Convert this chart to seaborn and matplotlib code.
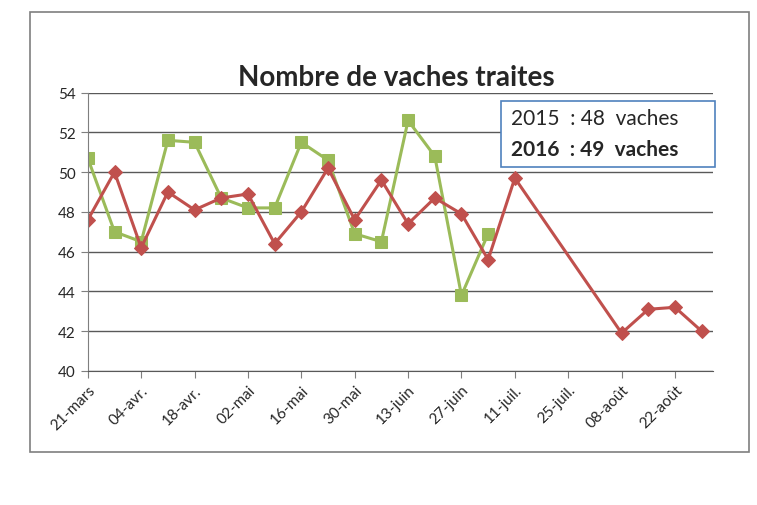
import pandas as pd
import matplotlib.pyplot as plt
from matplotlib.patches import Rectangle
import seaborn as sns

# weekly counts of milked cows
red_dates = ['2016-03-21', '2016-03-28', '2016-04-04', '2016-04-11', '2016-04-18', '2016-04-25',
             '2016-05-02', '2016-05-09', '2016-05-16', '2016-05-23', '2016-05-30', '2016-06-06',
             '2016-06-13', '2016-06-20', '2016-06-27', '2016-07-04', '2016-07-11',
             '2016-08-08', '2016-08-15', '2016-08-22', '2016-08-29']
red_values = [47.6, 50.0, 46.2, 49.0, 48.1, 48.7, 48.9, 46.4, 48.0, 50.2, 47.6,
              49.6, 47.4, 48.7, 47.9, 45.6, 49.7, 41.9, 43.1, 43.2, 42.0]

green_dates = ['2016-03-21', '2016-03-28', '2016-04-04', '2016-04-11', '2016-04-18', '2016-04-25',
               '2016-05-02', '2016-05-09', '2016-05-16', '2016-05-23', '2016-05-30', '2016-06-06',
               '2016-06-13', '2016-06-20', '2016-06-27', '2016-07-04']
green_values = [50.7, 47.0, 46.5, 51.6, 51.5, 48.7, 48.2, 48.2, 51.5, 50.6, 46.9,
                46.5, 52.6, 50.8, 43.8, 46.9]

tick_dates = ['2016-03-21', '2016-04-04', '2016-04-18', '2016-05-02', '2016-05-16', '2016-05-30',
              '2016-06-13', '2016-06-27', '2016-07-11', '2016-07-25', '2016-08-08', '2016-08-22']
tick_labels = ['21-mars', '04-avr.', '18-avr.', '02-mai', '16-mai', '30-mai',
               '13-juin', '27-juin', '11-juil.', '25-juil.', '08-août', '22-août']

summary_lines = ['2015  : 48  vaches', '2016  : 49  vaches']

red = pd.DataFrame({'date': pd.to_datetime(red_dates), 'vaches': red_values})
green = pd.DataFrame({'date': pd.to_datetime(green_dates), 'vaches': green_values})

sns.set_style('white')
plt.rcParams['font.family'] = ['Lato', 'DejaVu Sans']

fig = plt.figure(figsize=(7.57, 5.06), dpi=100)
ax = fig.add_axes([0.116, 0.265, 0.826, 0.55])

# chart frame
fig.patches.append(Rectangle((0.04, 0.105), 0.95, 0.87, transform=fig.transFigure,
                             fill=False, edgecolor='#7f7f7f', linewidth=1.2))

sns.lineplot(x='date', y='vaches', data=green, color='#9BBB59', linewidth=2.2,
             marker='s', markersize=9, markeredgecolor='#9BBB59', ax=ax)
sns.lineplot(x='date', y='vaches', data=red, color='#C0504D', linewidth=2.2,
             marker='D', markersize=7, markeredgecolor='#C0504D', ax=ax)

ax.set_ylim(40, 54)
ax.set_yticks(range(40, 55, 2))
ax.set_xlim(pd.Timestamp('2016-03-21'), pd.Timestamp('2016-09-01'))
ax.set_xticks(pd.to_datetime(tick_dates))
ax.set_xticklabels(tick_labels, rotation=45, ha='right', rotation_mode='anchor', fontsize=11)
ax.tick_params(axis='y', labelsize=11, length=5, color='#7f7f7f', direction='out', left=True)
ax.tick_params(axis='x', length=5, color='#7f7f7f', direction='out', bottom=True)
ax.grid(axis='y', color='#595959', linewidth=1.0)
ax.set_axisbelow(True)
for side in ['top', 'right']:
    ax.spines[side].set_visible(False)
ax.spines['left'].set_color('#7f7f7f')
ax.spines['bottom'].set_color('#595959')
ax.set_xlabel('')
ax.set_ylabel('')

fig.text(0.523, 0.845, 'Nombre de vaches traites', ha='center', va='center',
         fontsize=20, fontweight='bold')

# summary box
fig.patches.append(Rectangle((0.662, 0.668), 0.283, 0.13, transform=fig.transFigure,
                             facecolor='white', edgecolor='#4F81BD', linewidth=1.2, zorder=5))
fig.text(0.675, 0.765, summary_lines[0], fontsize=15, va='center', zorder=6)
fig.text(0.675, 0.703, summary_lines[1], fontsize=15, fontweight='bold', va='center', zorder=6)

plt.savefig('out.png', dpi=100)
